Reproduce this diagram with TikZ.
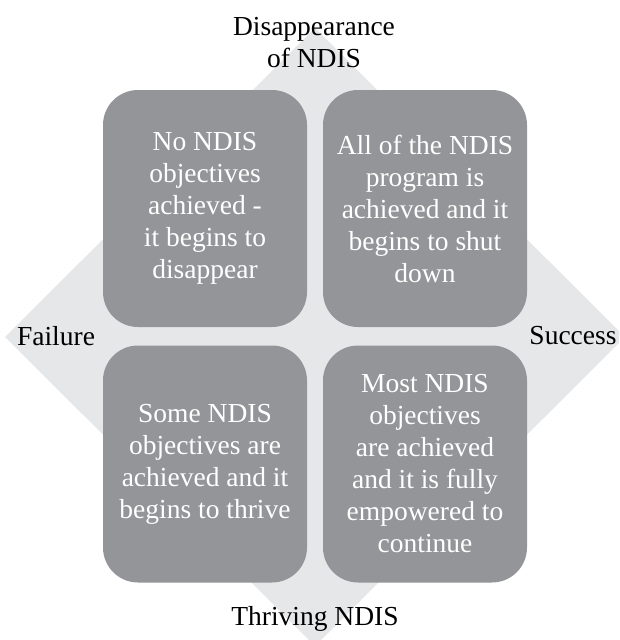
\documentclass[tikz,border=0pt]{standalone}
\usepackage{fontspec}
\setmainfont{Liberation Serif}
\definecolor{diamondgray}{HTML}{E6E7E8}
\definecolor{boxgray}{HTML}{939598}
\begin{document}
\begin{tikzpicture}[x=1pt, y=-1pt,
            every node/.style = {font=\fontsize{27.5}{32}\selectfont, align=center, inner sep=0pt},
            quad/.style = {fill=boxgray, text=white, rounded corners=35pt,
                minimum width=204pt, minimum height=237pt},
            side/.style = {text=black}]
    \useasboundingbox (0,0) rectangle (619,640);
    \clip (0,0) rectangle (619,640);
    % background diamond
    \fill[diamondgray] (315,28) -- (625,337) -- (315,646) -- (5,337) -- cycle;
    \node[quad] (nw) at (205,208.5) {No NDIS\\objectives\\achieved -\\it begins to\\disappear};
    \node[quad] (ne) at (425,208.5) {All of the NDIS\\program is\\achieved and it\\begins to shut\\down};
    \node[quad] (sw) at (205,464) {Some NDIS\\objectives are\\achieved and it\\begins to thrive};
    \node[quad] (se) at (425,464) {Most NDIS\\objectives\\are achieved\\and it is fully\\empowered to\\continue};
    \node[side] (top) at (314,43) {Disappearance\\of NDIS};
    \node[side] (left) at (56,336) {Failure};
    \node[side] (right) at (573,336) {Success};
    \node[side] (bottom) at (315,619) {Thriving NDIS};
\end{tikzpicture}
\end{document}
